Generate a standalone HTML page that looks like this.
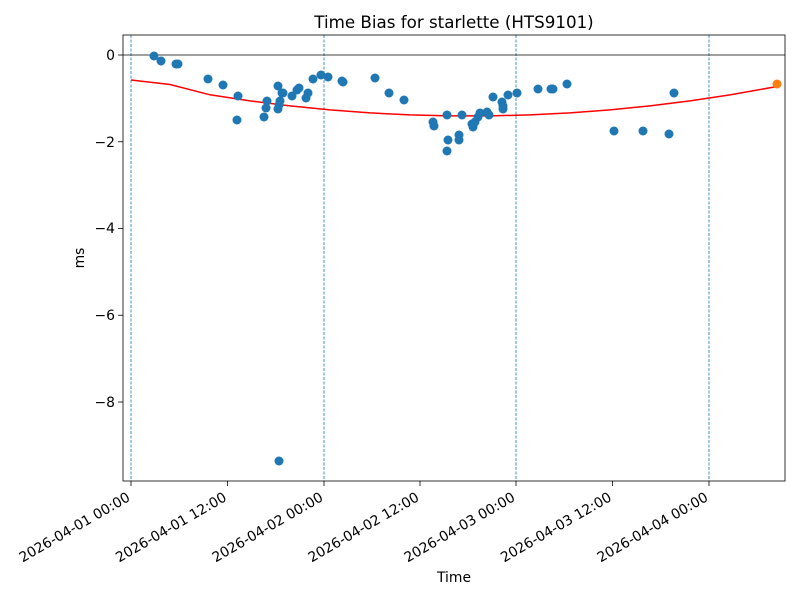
<!DOCTYPE html>
<html><head><meta charset="utf-8"><style>body{margin:0;background:#fff}svg{display:block}</style></head><body>
<svg width="800" height="600" xmlns="http://www.w3.org/2000/svg" font-family="DejaVu Sans, Liberation Sans, sans-serif">
<rect width="800" height="600" fill="#fff"/>
<text x="454" y="28" font-size="16.7" text-anchor="middle">Time Bias for starlette (HTS9101)</text>
<g stroke="#1f77b4" stroke-width="0.8" stroke-dasharray="3,1.5">
<line x1="131" y1="35" x2="131" y2="481"/><line x1="324" y1="35" x2="324" y2="481"/><line x1="516" y1="35" x2="516" y2="481"/><line x1="709" y1="35" x2="709" y2="481"/>
</g>
<line x1="123" y1="55" x2="785" y2="55" stroke="#000" stroke-width="0.8"/>
<polyline fill="none" stroke="red" stroke-width="1.5" points="131,80 170,84.5 210,94.8 250,100.9 290,105.9 330,109.9 370,112.9 410,114.9 450,115.9 490,115.9 530,114.9 570,112.9 610,109.9 650,105.9 690,100.9 730,94.9 777,86.5"/>
<g fill="#1f77b4">
<circle cx="154" cy="56" r="4.5"/><circle cx="161" cy="61" r="4.5"/><circle cx="176" cy="64" r="4.5"/><circle cx="178" cy="64" r="4.5"/><circle cx="208" cy="79" r="4.5"/><circle cx="223" cy="85" r="4.5"/><circle cx="238" cy="96" r="4.5"/><circle cx="237" cy="120" r="4.5"/><circle cx="264" cy="117" r="4.5"/><circle cx="266" cy="108" r="4.5"/><circle cx="267" cy="101" r="4.5"/><circle cx="278" cy="86" r="4.5"/><circle cx="278" cy="109" r="4.5"/><circle cx="279" cy="105" r="4.5"/><circle cx="280" cy="101" r="4.5"/><circle cx="282" cy="93" r="4.5"/><circle cx="283" cy="93" r="4.5"/><circle cx="292" cy="96" r="4.5"/><circle cx="297" cy="90" r="4.5"/><circle cx="299" cy="88" r="4.5"/><circle cx="306" cy="98" r="4.5"/><circle cx="308" cy="93" r="4.5"/><circle cx="313" cy="79" r="4.5"/><circle cx="321" cy="75" r="4.5"/><circle cx="328" cy="77" r="4.5"/><circle cx="342" cy="81" r="4.5"/><circle cx="343" cy="82" r="4.5"/><circle cx="375" cy="78" r="4.5"/><circle cx="389" cy="93" r="4.5"/><circle cx="404" cy="100" r="4.5"/><circle cx="433" cy="122" r="4.5"/><circle cx="434" cy="126" r="4.5"/><circle cx="447" cy="151" r="4.5"/><circle cx="448" cy="140" r="4.5"/><circle cx="447" cy="115" r="4.5"/><circle cx="459" cy="135" r="4.5"/><circle cx="459" cy="140" r="4.5"/><circle cx="462" cy="115" r="4.5"/><circle cx="472" cy="124" r="4.5"/><circle cx="473" cy="127" r="4.5"/><circle cx="475" cy="122" r="4.5"/><circle cx="478" cy="117" r="4.5"/><circle cx="480" cy="113" r="4.5"/><circle cx="487" cy="112" r="4.5"/><circle cx="489" cy="115" r="4.5"/><circle cx="493" cy="97" r="4.5"/><circle cx="502" cy="102" r="4.5"/><circle cx="503" cy="106" r="4.5"/><circle cx="503" cy="109" r="4.5"/><circle cx="508" cy="95" r="4.5"/><circle cx="517" cy="93" r="4.5"/><circle cx="538" cy="89" r="4.5"/><circle cx="551" cy="89" r="4.5"/><circle cx="553" cy="89" r="4.5"/><circle cx="567" cy="84" r="4.5"/><circle cx="614" cy="131" r="4.5"/><circle cx="643" cy="131" r="4.5"/><circle cx="669" cy="134" r="4.5"/><circle cx="674" cy="93" r="4.5"/><circle cx="279" cy="461" r="4.5"/>
</g>
<circle cx="777" cy="84" r="4.5" fill="#ff7f0e"/>
<rect x="123" y="35" width="662" height="446" fill="none" stroke="#000" stroke-width="0.8"/>
<g stroke="#000" stroke-width="0.8">
<line x1="118" y1="55" x2="123" y2="55"/><line x1="118" y1="141.75" x2="123" y2="141.75"/><line x1="118" y1="228.5" x2="123" y2="228.5"/><line x1="118" y1="315.25" x2="123" y2="315.25"/><line x1="118" y1="402" x2="123" y2="402"/>
<line x1="131" y1="481" x2="131" y2="486"/><line x1="227.5" y1="481" x2="227.5" y2="486"/><line x1="324" y1="481" x2="324" y2="486"/><line x1="420" y1="481" x2="420" y2="486"/><line x1="516" y1="481" x2="516" y2="486"/><line x1="612.5" y1="481" x2="612.5" y2="486"/><line x1="709" y1="481" x2="709" y2="486"/>
</g>
<g font-size="13.9" text-anchor="end">
<text x="115" y="60">0</text><text x="115" y="147">−2</text><text x="115" y="233">−4</text><text x="115" y="320">−6</text><text x="115" y="407">−8</text>
</g>
<g font-size="13.9" text-anchor="end">
<text transform="translate(131,500) rotate(-30)">2026-04-01 00:00</text>
<text transform="translate(227.5,500) rotate(-30)">2026-04-01 12:00</text>
<text transform="translate(324,500) rotate(-30)">2026-04-02 00:00</text>
<text transform="translate(420,500) rotate(-30)">2026-04-02 12:00</text>
<text transform="translate(516,500) rotate(-30)">2026-04-03 00:00</text>
<text transform="translate(612.5,500) rotate(-30)">2026-04-03 12:00</text>
<text transform="translate(709,500) rotate(-30)">2026-04-04 00:00</text>
</g>
<text x="454" y="582" font-size="13.9" text-anchor="middle">Time</text>
<text transform="translate(84,258) rotate(-90)" font-size="13.9" text-anchor="middle">ms</text>
</svg>
</body></html>
